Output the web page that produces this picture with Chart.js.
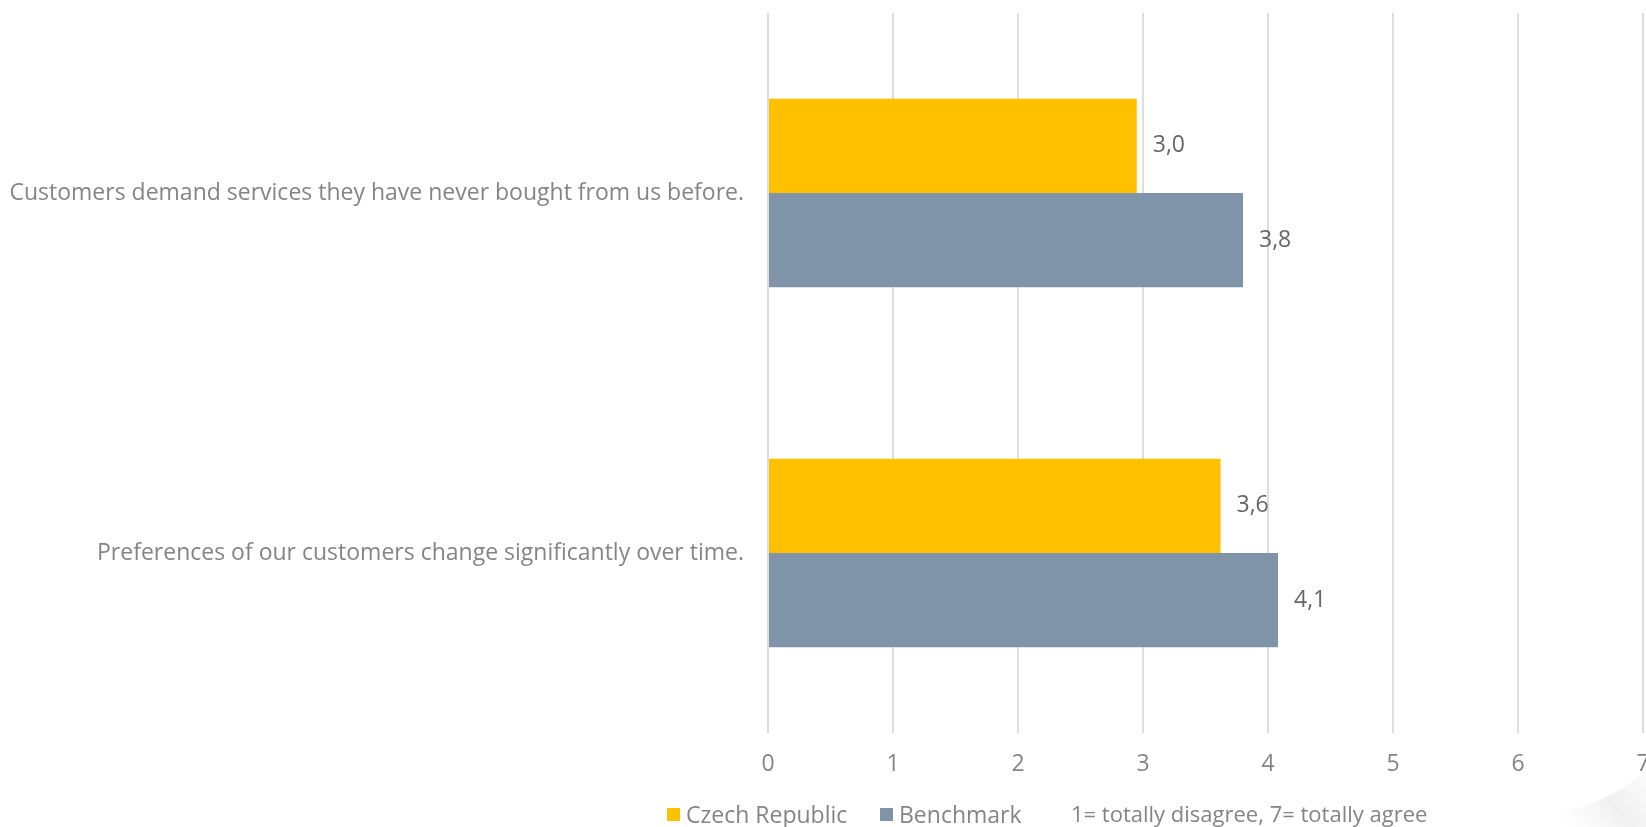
<!DOCTYPE html>
<html>
<head>
<meta charset="utf-8">
<script src="https://cdn.jsdelivr.net/npm/chart.js@4.4.1/dist/chart.umd.min.js"></script>
<style>
  html, body { margin: 0; padding: 0; background: #ffffff; }
  #wrap { width: 1646px; height: 827px; position: relative; }
</style>
</head>
<body>
<div id="wrap"><canvas id="chart"></canvas></div>
<script>
// Survey statements (y categories)
const categories = [
  'Customers demand services they have never bought from us before.',
  'Preferences of our customers change significantly over time.'
];
// Mean agreement scores per series
const czechValues = [2.95, 3.62];
const benchmarkValues = [3.8, 4.08];
const seriesNames = ['Czech Republic', 'Benchmark'];
const seriesColors = ['#FFC000', '#7F94A8'];
const xTicks = [0, 1, 2, 3, 4, 5, 6, 7];
const scaleNote = '1= totally disagree, 7= totally agree';

const FONT = '"Open Sans", sans-serif';
const FONT_SIZE = 23;
const TEXT_GREY = '#858585';

// Value labels placed just right of each bar, with decimal comma
const valueLabels = {
  id: 'valueLabels',
  afterDatasetsDraw(chart) {
    const ctx = chart.ctx;
    ctx.save();
    ctx.font = FONT_SIZE + 'px ' + FONT;
    ctx.fillStyle = '#666666';
    ctx.textAlign = 'left';
    ctx.textBaseline = 'middle';
    chart.data.datasets.forEach((ds, di) => {
      chart.getDatasetMeta(di).data.forEach((bar, i) => {
        const txt = ds.data[i].toFixed(1).replace('.', ',');
        ctx.fillText(txt, bar.x + 16, bar.y);
      });
    });
    ctx.restore();
  }
};

// Legend row with the scale explanation, drawn under the axis
const legendRow = {
  id: 'legendRow',
  afterDraw(chart) {
    const ctx = chart.ctx;
    const y = 816;
    ctx.save();
    ctx.font = FONT_SIZE + 'px ' + FONT;
    ctx.textAlign = 'left';
    ctx.textBaseline = 'middle';
    const items = [
      { x: 667, text: seriesNames[0], color: seriesColors[0] },
      { x: 880, text: seriesNames[1], color: seriesColors[1] }
    ];
    items.forEach(it => {
      ctx.fillStyle = it.color;
      ctx.fillRect(it.x, y - 8, 13, 13);
      ctx.fillStyle = TEXT_GREY;
      ctx.fillText(it.text, it.x + 19, y);
    });
    ctx.font = (FONT_SIZE - 1) + 'px ' + FONT;
    ctx.fillText(scaleNote, 1071, y);
    ctx.restore();
  }
};

// Soft page-corner shade at the lower right
const cornerShade = {
  id: 'cornerShade',
  beforeDraw(chart) {
    const ctx = chart.ctx;
    ctx.save();
    const g = ctx.createLinearGradient(1646, 760, 1560, 827);
    g.addColorStop(0, 'rgba(200,200,200,0.0)');
    g.addColorStop(0.5, 'rgba(215,215,215,0.35)');
    g.addColorStop(1, 'rgba(235,235,235,0.0)');
    ctx.fillStyle = g;
    ctx.beginPath();
    ctx.moveTo(1646, 770);
    ctx.quadraticCurveTo(1600, 815, 1480, 827);
    ctx.lineTo(1646, 827);
    ctx.closePath();
    ctx.fill();
    ctx.restore();
  }
};

new Chart(document.getElementById('chart'), {
  type: 'bar',
  data: {
    labels: categories,
    datasets: [
      { label: seriesNames[0], data: czechValues, backgroundColor: seriesColors[0] },
      { label: seriesNames[1], data: benchmarkValues, backgroundColor: seriesColors[1] }
    ]
  },
  options: {
    indexAxis: 'y',
    responsive: true,
    maintainAspectRatio: false,
    animation: false,
    datasets: { bar: { categoryPercentage: 0.523, barPercentage: 1.0 } },
    layout: { padding: { top: 13, right: 3, left: 0, bottom: 44 } },
    scales: {
      x: {
        min: 0, max: 7,
        afterBuildTicks(axis) { axis.ticks = xTicks.map(v => ({ value: v })); },
        afterFit(axis) { axis.height = 50; axis.paddingLeft = 0; axis.paddingRight = 0; },
        grid: { color: '#dedede', lineWidth: 2, drawTicks: false },
        border: { display: false },
        ticks: { color: TEXT_GREY, font: { family: FONT, size: FONT_SIZE }, padding: 18 }
      },
      y: {
        grid: { display: false, drawTicks: false },
        border: { display: false },
        afterFit(axis) { axis.width = 768; axis.paddingTop = 0; axis.paddingBottom = 0; },
        ticks: { color: TEXT_GREY, font: { family: FONT, size: FONT_SIZE }, padding: 24 }
      }
    },
    plugins: {
      legend: { display: false },
      tooltip: { enabled: false }
    }
  },
  plugins: [cornerShade, valueLabels, legendRow]
});
</script>
</body>
</html>
